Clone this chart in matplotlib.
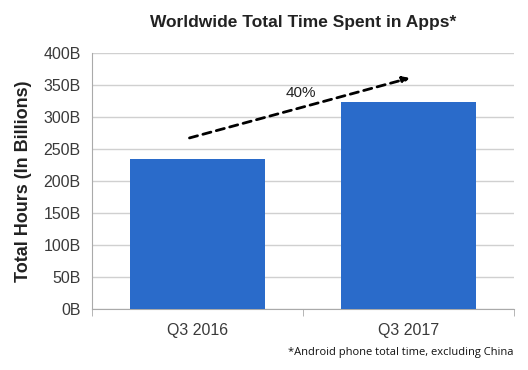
import matplotlib.pyplot as plt
import numpy as np

plt.rcParams['font.family'] = ['Liberation Sans', 'DejaVu Sans']

categories = ['Q3 2016', 'Q3 2017']
hours = [234, 323]
yticks = [0, 50, 100, 150, 200, 250, 300, 350, 400]
growth_label = '40%'

fig = plt.figure(figsize=(5.28, 3.70), dpi=100)
ax = fig.add_axes([0.174, 0.165, 0.799, 0.692])

x = np.arange(len(categories))
ax.bar(x, hours, width=0.64, color='#2a6bca', zorder=3)

ax.set_xlim(-0.5, len(categories) - 0.5)
ax.set_ylim(0, 400)
ax.set_yticks(yticks)
ax.set_yticklabels([f'{v}B' for v in yticks], fontsize=11.5, color='#3a3a3a')
ax.set_xticks(x)
ax.set_xticklabels(categories, fontsize=11.5, color='#3a3a3a')
ax.tick_params(axis='x', length=0, pad=10)
ax.tick_params(axis='y', length=0, pad=8)
# category separator ticks on the bottom
ax.set_xticks([-0.5, 0.5, 1.5], minor=True)
ax.tick_params(axis='x', which='minor', length=5, color='#aaaaaa', direction='out')

ax.grid(axis='y', color='#d0d0d0', linewidth=1, zorder=0)
for s in ['top', 'right']:
    ax.spines[s].set_visible(False)
for s in ['left', 'bottom']:
    ax.spines[s].set_color('#aaaaaa')

ax.set_ylabel('Total Hours (In Billions)', fontsize=13, fontweight='bold',
              color='#222222', labelpad=8)
ax.set_title('Worldwide Total Time Spent in Apps*', fontsize=12.5,
             fontweight='bold', color='#222222', pad=19)

ax.annotate('', xy=(1.02, 362), xytext=(-0.05, 266),
            arrowprops=dict(arrowstyle='-|>', linestyle=(0, (3, 2)), lw=2,
                            color='black', mutation_scale=10))
ax.text(0.49, 337, growth_label, fontsize=11, ha='center', va='center',
        color='#222222')

fig.text(0.973, 0.048, '*Android phone total time, excluding China',
         ha='right', va='center', fontsize=8, family=['Open Sans', 'DejaVu Sans'],
         color='#111111')

fig.savefig('out.png', dpi=100)
